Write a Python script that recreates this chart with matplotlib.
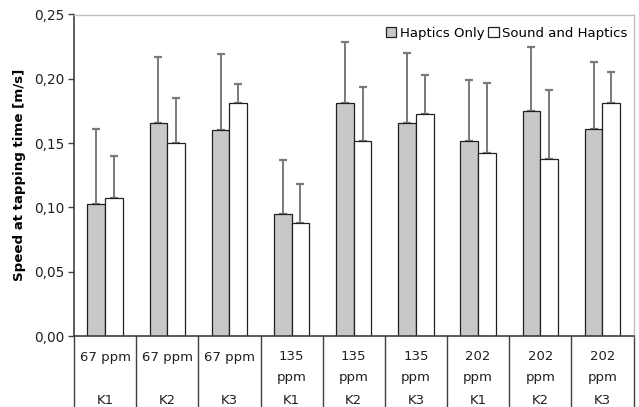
import numpy as np
import matplotlib.pyplot as plt
from matplotlib.ticker import MultipleLocator, FuncFormatter

# values
rates = ["67 ppm", "67 ppm", "67 ppm", "135\nppm", "135\nppm", "135\nppm",
         "202\nppm", "202\nppm", "202\nppm"]
keys = ["K1", "K2", "K3", "K1", "K2", "K3", "K1", "K2", "K3"]
haptics_only = [0.103, 0.166, 0.160, 0.095, 0.181, 0.166, 0.152, 0.175, 0.161]
haptics_only_err = [0.058, 0.051, 0.059, 0.042, 0.048, 0.054, 0.047, 0.050, 0.052]
sound_haptics = [0.107, 0.150, 0.181, 0.088, 0.152, 0.173, 0.142, 0.138, 0.181]
sound_haptics_err = [0.033, 0.035, 0.015, 0.030, 0.042, 0.030, 0.055, 0.053, 0.024]

plt.rcParams["font.family"] = "DejaVu Sans"
plt.rcParams["font.size"] = 9

fig = plt.figure(figsize=(6.39, 4.07), dpi=100)
ax = fig.add_axes([74 / 639, 1 - 336 / 407, (633.5 - 74) / 639, (336 - 14.5) / 407])

x = np.arange(len(keys))
w = 0.285

ax.bar(x - w / 2, haptics_only, w, color="#c8c8c8", edgecolor="#202020",
       linewidth=0.9, label="Haptics Only", zorder=2)
ax.bar(x + w / 2, sound_haptics, w, color="white", edgecolor="#202020",
       linewidth=0.9, label="Sound and Haptics", zorder=2)

for xs, vals, errs in [(x - w / 2, haptics_only, haptics_only_err),
                       (x + w / 2, sound_haptics, sound_haptics_err)]:
    eb = ax.errorbar(xs, vals, yerr=[np.zeros(len(errs)), errs], fmt="none",
                     ecolor="#7a7a7a", elinewidth=1.4, capsize=3.2, capthick=1.6,
                     zorder=1)
    for cap in eb[1]:
        cap.set_color("#101010")

ax.set_xlim(-0.5, len(keys) - 0.5)
ax.set_ylim(0, 0.25)
ax.yaxis.set_major_locator(MultipleLocator(0.05))
ax.yaxis.set_major_formatter(FuncFormatter(lambda v, p: f"{v:.2f}".replace(".", ",")))
ax.set_xticks([])
ax.tick_params(axis="y", length=4, width=1, color="#404040", pad=3, labelsize=9.8,
               labelcolor="#202020")

for side in ["top", "right"]:
    ax.spines[side].set_color("#c0c0c0")
    ax.spines[side].set_linewidth(1)
for side in ["left", "bottom"]:
    ax.spines[side].set_color("#404040")
    ax.spines[side].set_linewidth(1.2)

ax.set_ylabel("Speed at tapping time [m/s]", fontweight="bold", fontsize=9.6)
ax.yaxis.set_label_coords(-0.086, 0.5)

# category table under the axis
trans = ax.get_xaxis_transform()
px = 1 / (336 - 14.5)
for i in range(len(keys) + 1):
    ax.plot([i - 0.5, i - 0.5], [0, -72 * px], color="#404040", lw=1,
            transform=trans, clip_on=False)
for i, (r, k) in enumerate(zip(rates, keys)):
    for j, line in enumerate(r.split("\n")):
        ax.text(i, -(21 + 21 * j) * px, line, ha="center", va="center",
                fontsize=9.5, color="#202020", transform=trans)
    ax.text(i, -65 * px, k, ha="center", va="center", fontsize=9.5,
            color="#202020", transform=trans)

ax.legend(loc="upper right", bbox_to_anchor=(1 - 3.5 / 559.5, 1 - 9.5 / 321.5),
          ncol=2, frameon=False, fontsize=9.5,
          handlelength=0.8, handleheight=0.8, handletextpad=0.25,
          columnspacing=0.3, borderaxespad=0, borderpad=0.2)

fig.savefig("out.png", dpi=100)
